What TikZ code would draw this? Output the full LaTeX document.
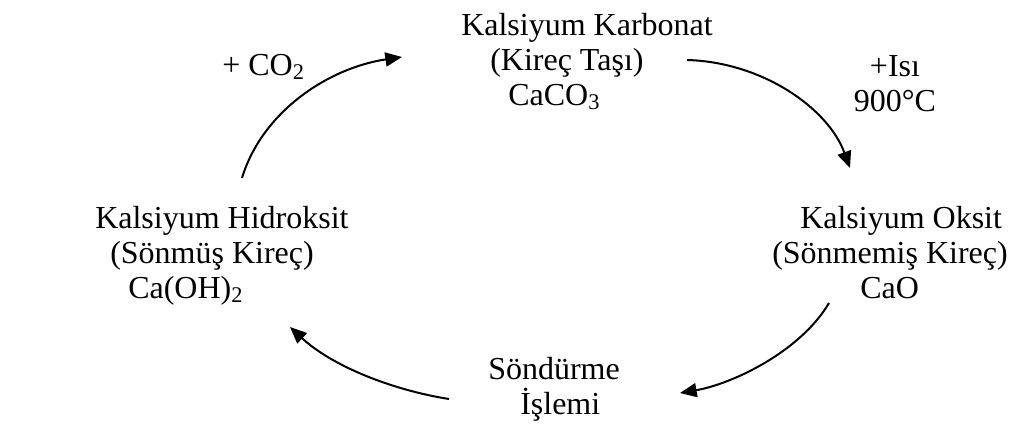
\documentclass[tikz,border=0pt]{standalone}
\usepackage{fontspec}
\setmainfont{Liberation Serif}
\usetikzlibrary{arrows.meta}
\newcommand\cycletext{\fontsize{24}{26.25}\selectfont}
\begin{document}
\begin{tikzpicture}
    [
      x=0.75pt, y=-0.75pt,
      every node/.style={black, inner sep=0pt, font=\cycletext},
      block/.style={align=left, anchor=base west},
      cycle/.style={line width=1.5pt, -{Triangle[length=12.5pt, width=10.5pt]}},
    ]

    \useasboundingbox (0,0) rectangle (1010,447);

    % base anchor sits on the last line
    \node [block] (karbonat) at (461,105)
      {Kalsiyum Karbonat\\\hspace*{21.75pt}(Kireç Taşı)\\\hspace*{35.25pt}CaCO\textsubscript{3}};
    \node [block] (oksit) at (772,298)
      {\hspace*{21pt}Kalsiyum Oksit\\(Sönmemiş Kireç)\\\hspace*{66pt}CaO};
    \node [block] (sondurme) at (488,414)
      {Söndürme\\\hspace*{24pt}İşlemi};
    \node [block] (hidroksit) at (95,298)
      {Kalsiyum Hidroksit\\\hspace*{11.25pt}(Sönmüş Kireç)\\\hspace*{24.75pt}Ca(OH)\textsubscript{2}};

    \node [block] (co2) at (222,75) {+ CO\textsubscript{2}};
    \node [block, align=center, anchor=base] (isi) at (895,111) {+Isı\\900°C};

    % arrow ends
    \coordinate (h-out) at (242,178);
    \coordinate (k-in)  at (402,57);
    \coordinate (k-out) at (687,60);
    \coordinate (o-in)  at (850,168);
    \coordinate (o-out) at (829,303);
    \coordinate (s-in)  at (680,393);
    \coordinate (s-out) at (449,399);
    \coordinate (h-in)  at (290,327);

    \draw [cycle] (h-out) .. controls (262,112) and (328,68) .. (k-in);
    \draw [cycle] (k-out) .. controls (762,62) and (828,108) .. (o-in);
    \draw [cycle] (o-out) .. controls (800,352) and (732,384) .. (s-in);
    \draw [cycle] (s-out) .. controls (392,390) and (332,366) .. (h-in);
  \end{tikzpicture}
\end{document}
